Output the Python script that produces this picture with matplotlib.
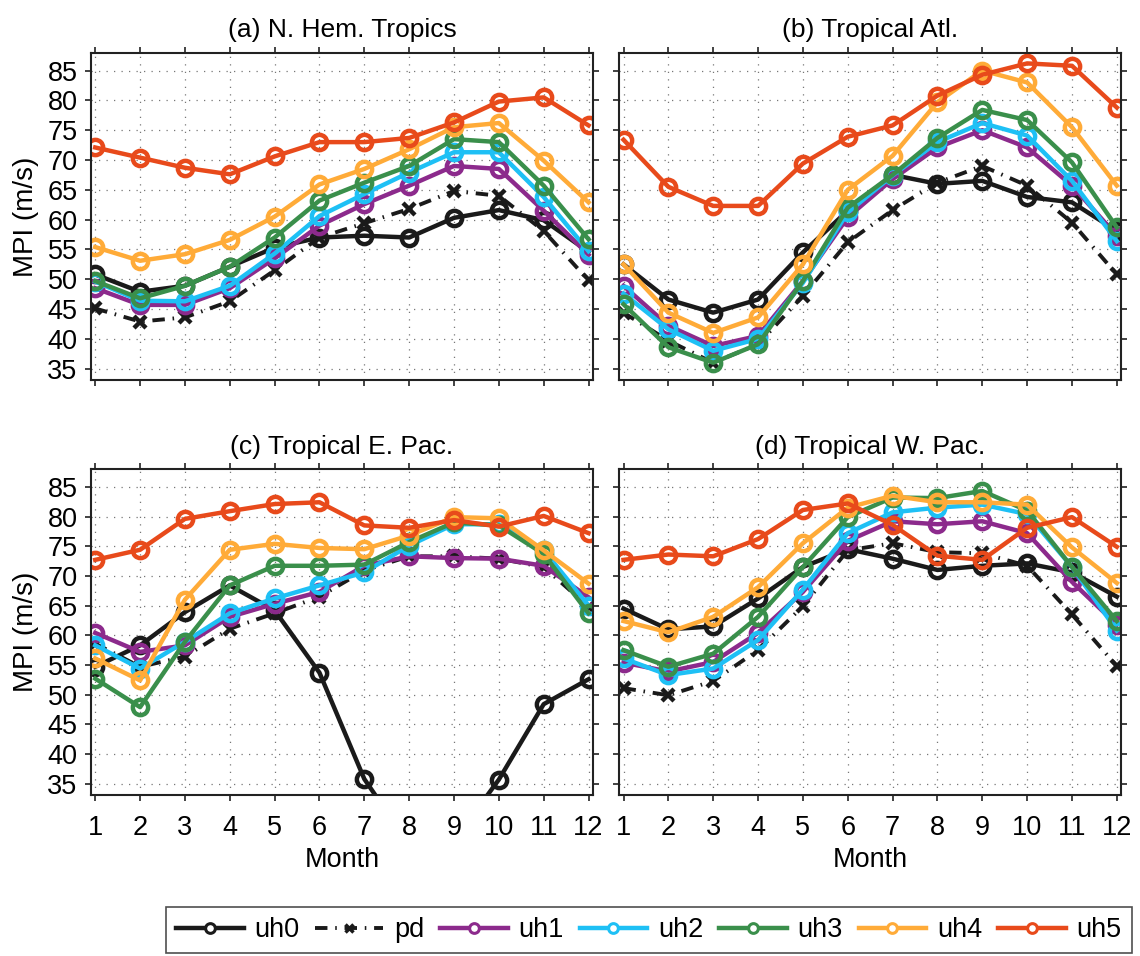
import numpy as np
import matplotlib.pyplot as plt
from matplotlib.lines import Line2D

plt.rcParams['font.family'] = ['Liberation Sans', 'DejaVu Sans']

months = np.arange(1, 13)
series_names = ["uh0", "pd", "uh1", "uh2", "uh3", "uh4", "uh5"]
panel_titles = ["(a) N. Hem. Tropics", "(b) Tropical Atl.",
                "(c) Tropical E. Pac.", "(d) Tropical W. Pac."]
yticks = [35, 40, 45, 50, 55, 60, 65, 70, 75, 80, 85]

# (a) N. Hem. Tropics
nht_uh0 = [50.8, 47.9, 48.9, 52.1, 55.3, 57.0, 57.3, 57.0, 60.3, 61.6, 59.9, 54.6]
nht_pd = [45.1, 42.9, 43.6, 46.3, 51.5, 57.0, 59.4, 61.8, 64.8, 64.0, 58.1, 49.8]
nht_uh1 = [48.5, 45.7, 45.7, 48.5, 53.5, 59.0, 62.6, 65.7, 69.0, 68.5, 61.5, 54.1]
nht_uh2 = [49.6, 46.4, 46.3, 48.9, 54.3, 60.6, 64.3, 67.9, 71.3, 71.3, 63.8, 54.7]
nht_uh3 = [49.7, 46.8, 48.9, 52.1, 57.0, 63.2, 66.2, 69.0, 73.5, 73.0, 65.7, 56.7]
nht_uh4 = [55.4, 53.1, 54.2, 56.6, 60.5, 65.9, 68.5, 71.8, 75.5, 76.2, 69.9, 62.9]
nht_uh5 = [72.1, 70.4, 68.7, 67.6, 70.6, 73.0, 73.0, 73.7, 76.3, 79.8, 80.5, 75.8]

# (b) Tropical Atlantic
atl_uh0 = [52.5, 46.6, 44.4, 46.6, 54.5, 61.5, 67.5, 66.0, 66.5, 63.8, 62.9, 58.1]
atl_pd = [44.4, 39.7, 36.0, 39.1, 47.2, 56.2, 61.6, 66.2, 69.0, 65.7, 59.5, 50.8]
atl_uh1 = [48.9, 42.2, 38.8, 40.5, 49.7, 60.4, 66.8, 72.1, 75.0, 72.1, 65.7, 57.3]
atl_uh2 = [47.6, 41.6, 38.0, 40.0, 49.4, 61.2, 67.4, 73.0, 76.2, 74.1, 66.5, 56.4]
atl_uh3 = [45.8, 38.6, 36.0, 39.1, 49.7, 62.0, 67.5, 73.7, 78.4, 76.7, 69.6, 58.7]
atl_uh4 = [52.5, 44.4, 41.0, 43.6, 52.5, 65.0, 70.7, 79.7, 85.0, 83.0, 75.5, 65.7]
atl_uh5 = [73.4, 65.5, 62.3, 62.3, 69.4, 73.9, 75.8, 80.8, 84.3, 86.2, 85.8, 78.8]

# (c) Tropical E. Pacific
epac_uh0 = [54.7, 58.3, 63.9, 68.4, 64.2, 53.7, 35.8, 24.7, 25.4, 35.7, 48.4, 52.6]
epac_pd = [58.6, 54.7, 56.4, 61.1, 63.7, 66.5, 70.9, 73.3, 73.3, 72.9, 71.5, 64.8]
epac_uh1 = [60.4, 57.2, 58.3, 63.1, 65.3, 67.3, 71.7, 73.3, 73.0, 72.9, 71.7, 66.4]
epac_uh2 = [58.3, 54.4, 58.9, 63.7, 66.2, 68.4, 70.6, 75.1, 78.7, 78.7, 74.3, 65.0]
epac_uh3 = [52.7, 47.9, 58.9, 68.4, 71.7, 71.7, 71.9, 75.7, 79.0, 78.5, 73.7, 63.7]
epac_uh4 = [56.1, 52.4, 66.0, 74.4, 75.4, 74.7, 74.5, 76.8, 79.9, 79.7, 74.3, 68.7]
epac_uh5 = [72.7, 74.4, 79.6, 80.9, 82.1, 82.4, 78.5, 78.1, 79.4, 78.3, 80.1, 77.2]

# (d) Tropical W. Pacific
wpac_uh0 = [64.5, 61.0, 61.5, 66.2, 71.5, 74.5, 72.9, 71.0, 71.7, 72.1, 70.6, 66.5]
wpac_pd = [51.1, 49.9, 52.3, 57.5, 64.9, 74.3, 75.5, 74.0, 73.8, 71.7, 63.5, 54.8]
wpac_uh1 = [55.4, 53.9, 55.5, 60.4, 67.3, 75.9, 79.2, 78.7, 79.2, 77.2, 69.0, 61.8]
wpac_uh2 = [56.1, 53.3, 54.4, 59.2, 67.7, 77.2, 80.7, 81.5, 82.0, 80.4, 71.5, 60.8]
wpac_uh3 = [57.5, 54.7, 56.9, 63.1, 71.5, 79.9, 83.2, 83.1, 84.3, 81.0, 71.5, 62.4]
wpac_uh4 = [62.4, 60.5, 63.1, 68.1, 75.5, 81.5, 83.5, 82.4, 82.4, 82.0, 74.8, 68.8]
wpac_uh5 = [72.7, 73.6, 73.3, 76.2, 81.1, 82.2, 78.6, 73.4, 72.7, 78.1, 79.9, 74.9]

panels = [
    [nht_uh0, nht_pd, nht_uh1, nht_uh2, nht_uh3, nht_uh4, nht_uh5],
    [atl_uh0, atl_pd, atl_uh1, atl_uh2, atl_uh3, atl_uh4, atl_uh5],
    [epac_uh0, epac_pd, epac_uh1, epac_uh2, epac_uh3, epac_uh4, epac_uh5],
    [wpac_uh0, wpac_pd, wpac_uh1, wpac_uh2, wpac_uh3, wpac_uh4, wpac_uh5],
]

colors = ["#1a1a1a", "#1a1a1a", "#8c2a8c", "#1ec0f5", "#3a8f4b", "#ffab38", "#e84a1b"]

fig = plt.figure(figsize=(11.4, 9.56), dpi=100)
positions = [
    [0.0796, 0.6025, 0.4406, 0.3424],
    [0.5430, 0.6025, 0.4406, 0.3424],
    [0.0796, 0.1684, 0.4406, 0.3410],
    [0.5430, 0.1684, 0.4406, 0.3410],
]

pd_dashes = (3.2, 2.0, 0.4, 2.0)

for k, (pos, data, title) in enumerate(zip(positions, panels, panel_titles)):
    ax = fig.add_axes(pos)
    for name, vals, col in zip(series_names, data, colors):
        if name == "pd":
            ax.plot(months, vals, color=col, lw=2.8, dashes=pd_dashes,
                    marker='x', ms=9, mew=3.2)
        else:
            ax.plot(months, vals, color=col, lw=3.2, marker='o', ms=11,
                    mfc='none', mew=3.2)
    ax.set_xlim(0.9, 12.1)
    ax.set_ylim(33.1, 88.0)
    ax.set_xticks(months)
    ax.set_yticks(yticks)
    ax.grid(True, color='#777777', linestyle=(0, (1, 5)), linewidth=0.9)
    ax.tick_params(direction='out', length=4.5, width=1.2, top=True, right=True,
                   labelsize=19.5, color='#222222')
    ax.tick_params(axis='x', pad=10)
    ax.tick_params(axis='y', pad=5)
    for sp in ax.spines.values():
        sp.set_linewidth(1.5)
        sp.set_color('#222222')
    ax.set_title(title, fontsize=19, pad=11)
    if k in (0, 2):
        ax.set_ylabel("MPI (m/s)", fontsize=20, labelpad=6)
    else:
        ax.set_yticklabels([])
    if k in (2, 3):
        ax.set_xlabel("Month", fontsize=19.5, labelpad=4)
    else:
        ax.set_xticklabels([])

handles = []
for name, col in zip(series_names, colors):
    if name == "pd":
        handles.append(Line2D([], [], color=col, lw=2.8, dashes=pd_dashes,
                              marker='x', ms=5.5, mew=2.5))
    else:
        handles.append(Line2D([], [], color=col, lw=3.2, marker='o', ms=7,
                              mfc='white', mew=2.2))

leg = fig.legend(handles, series_names, loc='lower left', ncol=7,
                 bbox_to_anchor=(0.143, 0.0), fontsize=19.5, frameon=True,
                 fancybox=False, edgecolor='#222222', handlelength=2.5,
                 columnspacing=0.58, handletextpad=0.4, borderpad=0.38,
                 borderaxespad=0.1)
leg.get_frame().set_linewidth(1.2)

fig.savefig("out.png", dpi=100)
